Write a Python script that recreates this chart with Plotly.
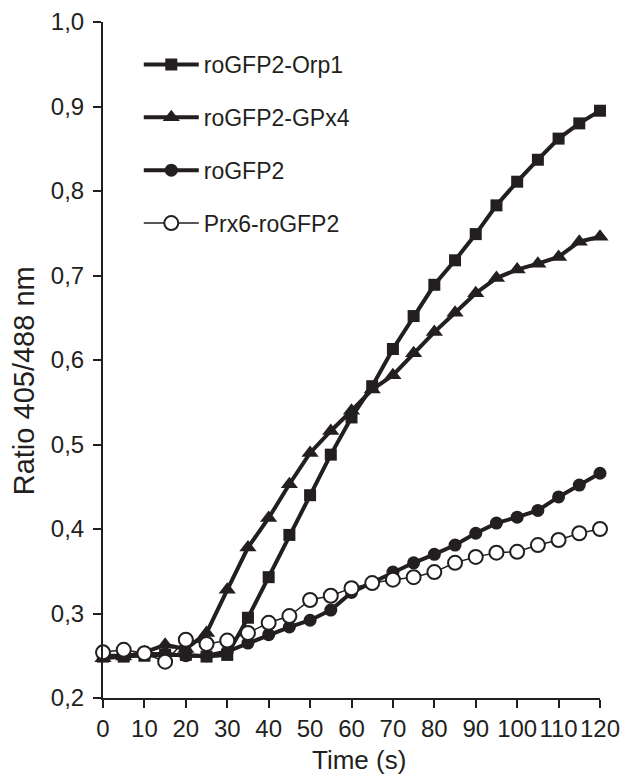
import plotly.graph_objects as go

time_s = [0, 5, 10, 15, 20, 25, 30, 35, 40, 45, 50, 55, 60, 65, 70, 75, 80, 85, 90, 95, 100, 105, 110, 115, 120]

orp1 = [0.249, 0.249, 0.250, 0.251, 0.251, 0.249, 0.251, 0.295, 0.343, 0.393, 0.440, 0.488, 0.532, 0.569, 0.613, 0.652, 0.689, 0.718, 0.749, 0.783, 0.811, 0.837, 0.862, 0.880, 0.895]
gpx4 = [0.247, 0.249, 0.254, 0.263, 0.258, 0.277, 0.328, 0.378, 0.413, 0.453, 0.490, 0.516, 0.540, 0.565, 0.582, 0.608, 0.633, 0.656, 0.679, 0.697, 0.707, 0.714, 0.722, 0.740, 0.746]
rogfp2 = [0.250, 0.250, 0.252, 0.252, 0.250, 0.250, 0.255, 0.265, 0.275, 0.284, 0.292, 0.304, 0.325, 0.337, 0.349, 0.360, 0.370, 0.381, 0.395, 0.407, 0.414, 0.422, 0.438, 0.452, 0.466]
prx6 = [0.254, 0.257, 0.253, 0.243, 0.269, 0.264, 0.268, 0.277, 0.289, 0.297, 0.316, 0.321, 0.330, 0.336, 0.340, 0.343, 0.349, 0.360, 0.367, 0.372, 0.373, 0.381, 0.387, 0.395, 0.400]

x_ticks = list(range(0, 121, 10))
y_ticks = [0.2, 0.3, 0.4, 0.5, 0.6, 0.7, 0.8, 0.9, 1.0]
y_ticktext = ["0,2", "0,3", "0,4", "0,5", "0,6", "0,7", "0,8", "0,9", "1,0"]

x_title = "Time (s)"
y_title = "Ratio 405/488 nm"

INK = "#231f20"
FONT = "Liberation Sans, Arial, sans-serif"

fig = go.Figure()
fig.add_trace(go.Scatter(x=time_s, y=orp1, name="roGFP2-Orp1", mode="lines+markers",
                         line=dict(color=INK, width=4),
                         marker=dict(symbol="square", size=12, color=INK),
                         legendgroup="a", cliponaxis=False))
fig.add_trace(go.Scatter(x=time_s, y=gpx4, name="roGFP2-GPx4", mode="lines+markers",
                         line=dict(color=INK, width=4),
                         marker=dict(symbol="triangle-up", size=15, color=INK),
                         legendgroup="b", cliponaxis=False))
fig.add_trace(go.Scatter(x=time_s, y=rogfp2, name="roGFP2", mode="lines+markers",
                         line=dict(color=INK, width=4),
                         marker=dict(symbol="circle", size=13, color=INK),
                         legendgroup="c", cliponaxis=False))
fig.add_trace(go.Scatter(x=time_s, y=prx6, name="Prx6-roGFP2", mode="lines+markers",
                         line=dict(color=INK, width=1.5),
                         marker=dict(symbol="circle", size=14, color="white",
                                     line=dict(color=INK, width=2)),
                         legendgroup="d", cliponaxis=False))

fig.update_layout(
    width=624, height=776,
    margin=dict(l=103, r=24, t=22, b=78, autoexpand=False),
    plot_bgcolor="white", paper_bgcolor="white",
    font=dict(family=FONT, color=INK, size=24),
    showlegend=True,
    legend=dict(x=0.072, y=0.969, xanchor="left", yanchor="top",
                font=dict(size=23, color=INK), bgcolor="rgba(0,0,0,0)",
                tracegroupgap=20, itemwidth=55),
    xaxis=dict(range=[0, 120], tickvals=x_ticks, ticktext=[str(v) for v in x_ticks],
               showgrid=False, zeroline=False, showline=True, linecolor=INK, linewidth=2,
               ticks="outside", ticklen=8, tickwidth=2, tickcolor=INK,
               tickfont=dict(size=24), ticklabelstandoff=0, tickangle=0,
               ticklabeloverflow="allow", automargin=False),
    yaxis=dict(range=[0.2, 1.0], tickvals=y_ticks, ticktext=y_ticktext,
               showgrid=False, zeroline=False, showline=True, linecolor=INK, linewidth=2,
               ticks="outside", ticklen=8, tickwidth=2, tickcolor=INK,
               tickfont=dict(size=24), ticklabelstandoff=4, automargin=False),
    annotations=[
        dict(text=x_title, xref="paper", yref="paper", x=0.515, y=-0.0917,
             xanchor="center", yanchor="middle", showarrow=False,
             font=dict(size=26, color=INK, family=FONT)),
        dict(text=y_title, xref="paper", yref="paper", x=-0.159, y=0.470,
             xanchor="center", yanchor="middle", showarrow=False, textangle=-90,
             font=dict(size=29, color=INK, family=FONT)),
    ],
)

fig.write_html("out.html", config={"displayModeBar": False},
               post_script="document.body.style.margin='0';")
